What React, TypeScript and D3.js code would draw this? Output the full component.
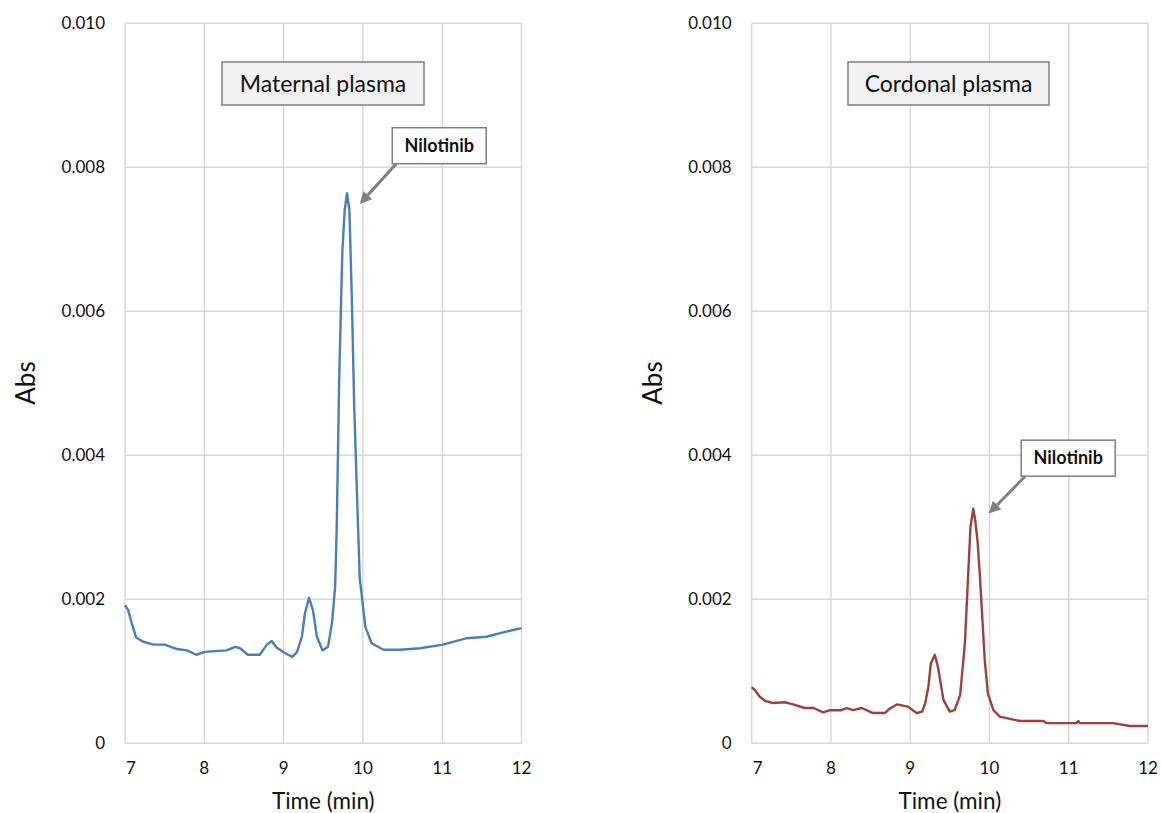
import React from 'react';
import * as d3 from 'd3';

// retention time (min) / absorbance
const maternalTime = [7.0, 7.04, 7.085, 7.14, 7.23, 7.36, 7.5, 7.65, 7.78, 7.9, 8.01, 8.28, 8.39, 8.45, 8.55, 8.7, 8.79, 8.85, 8.91, 9.02, 9.11, 9.17, 9.23, 9.27, 9.32, 9.37, 9.42, 9.49, 9.56, 9.61, 9.65, 9.67, 9.7, 9.74, 9.77, 9.8, 9.83, 9.86, 9.89, 9.93, 9.96, 10.03, 10.11, 10.26, 10.47, 10.72, 11.01, 11.31, 11.56, 11.73, 12.0];
const maternalAbs = [0.00192, 0.00185, 0.00167, 0.00147, 0.00141, 0.00137, 0.00137, 0.00131, 0.00129, 0.00123, 0.00127, 0.00129, 0.00134, 0.00132, 0.00123, 0.00123, 0.00137, 0.00142, 0.00133, 0.00125, 0.0012, 0.00127, 0.00148, 0.00181, 0.00202, 0.00185, 0.00148, 0.00129, 0.00134, 0.00167, 0.00218, 0.003, 0.005, 0.0068, 0.0074, 0.00764, 0.0074, 0.0062, 0.0047, 0.0033, 0.0023, 0.00162, 0.00139, 0.0013, 0.0013, 0.00132, 0.00137, 0.00146, 0.00148, 0.00153, 0.0016];

const cordonalTime = [7.0, 7.04, 7.1, 7.17, 7.27, 7.42, 7.52, 7.67, 7.78, 7.9, 7.99, 8.13, 8.2, 8.28, 8.39, 8.53, 8.68, 8.74, 8.83, 8.97, 9.08, 9.15, 9.19, 9.23, 9.26, 9.31, 9.35, 9.42, 9.5, 9.56, 9.63, 9.69, 9.73, 9.76, 9.795, 9.82, 9.85, 9.88, 9.94, 9.98, 10.05, 10.13, 10.26, 10.38, 10.68, 10.72, 11.1, 11.12, 11.14, 11.56, 11.77, 12.0];
const cordonalAbs = [0.00078, 0.00074, 0.00065, 0.00059, 0.00056, 0.00057, 0.00054, 0.00049, 0.00049, 0.00043, 0.00046, 0.00046, 0.00049, 0.00046, 0.00049, 0.00042, 0.00042, 0.00048, 0.00054, 0.00051, 0.00042, 0.00044, 0.00056, 0.00079, 0.00111, 0.00123, 0.00106, 0.0006, 0.00044, 0.00046, 0.00067, 0.00139, 0.00231, 0.003, 0.00326, 0.0031, 0.0028, 0.00231, 0.00116, 0.00069, 0.00046, 0.00037, 0.00034, 0.00031, 0.00031, 0.00028, 0.00028, 0.00031, 0.00028, 0.00028, 0.00024, 0.00024];

const xTicks = [7, 8, 9, 10, 11, 12];
const yTicks = [0, 0.002, 0.004, 0.006, 0.008, 0.01];

const FONT = 'Lato, "Open Sans", sans-serif';

type PanelProps = {
  left: number;
  right: number;
  time: number[];
  abs: number[];
  color: string;
  title: string;
  titleBox: [number, number, number, number];
  // annotation: box top-left in data units, arrow tip in data units
  noteAt: [number, number];
  arrowTip: [number, number];
};

const top = 23.3;
const bottom = 743.3;

function Panel({ left, right, time, abs, color, title, titleBox, noteAt, arrowTip }: PanelProps) {
  const x = d3.scaleLinear().domain([7, 12]).range([left, right]);
  const y = d3.scaleLinear().domain([0, 0.01]).range([bottom, top]);
  const pts = time.map((t, i) => [t, abs[i]] as [number, number]);
  const line = d3.line<[number, number]>().x(d => x(d[0])).y(d => y(d[1]));

  const bx = x(noteAt[0]);
  const by = y(noteAt[1]);
  const tipX = x(arrowTip[0]);
  const tipY = y(arrowTip[1]);
  const sx = bx + 4;
  const sy = by + 36;
  const ang = Math.atan2(tipY - sy, tipX - sx);
  const headLen = 12;
  const headW = 6;
  const baseX = tipX - headLen * Math.cos(ang);
  const baseY = tipY - headLen * Math.sin(ang);
  const px = -Math.sin(ang) * headW;
  const py = Math.cos(ang) * headW;

  const [tx, ty, tw, th] = titleBox;

  return (
    <g>
      {xTicks.map(t => (
        <line key={'gx' + t} x1={x(t)} x2={x(t)} y1={top} y2={bottom} stroke="#d9d9d9" strokeWidth={1.5} />
      ))}
      {yTicks.map(v => (
        <line key={'gy' + v} x1={left} x2={right} y1={y(v)} y2={y(v)} stroke="#d9d9d9" strokeWidth={1.5} />
      ))}
      {yTicks.map(v => (
        <text key={'ty' + v} x={left - 20} y={y(v)} dy="0.35em" textAnchor="end" fontSize={17} fontFamily={FONT} fill="#111">
          {v === 0 ? '0' : d3.format('.3f')(v)}
        </text>
      ))}
      {xTicks.map((t, i) => (
        <text key={'tx' + t} x={x(t) + (i === 0 ? 6 : 0)} y={768} dy="0.35em" textAnchor="middle" fontSize={17} fontFamily={FONT} fill="#111">
          {t}
        </text>
      ))}
      <text x={(left + right) / 2} y={801} dy="0.35em" textAnchor="middle" fontSize={22.5} fontFamily={FONT} fill="#111">
        Time (min)
      </text>
      <text transform={`translate(${left - 99},383) rotate(-90)`} dy="0.35em" textAnchor="middle" fontSize={26} fontFamily={FONT} fill="#111">
        Abs
      </text>

      <path d={line(pts) || ''} fill="none" stroke={color} strokeWidth={2.4} strokeLinejoin="round" />

      <rect x={tx} y={ty} width={tw} height={th} fill="#f2f2f2" stroke="#7f7f7f" strokeWidth={1.5} />
      <text x={tx + tw / 2} y={ty + th / 2} dy="0.35em" textAnchor="middle" fontSize={23} fontFamily={FONT} fill="#111">
        {title}
      </text>

      <rect x={bx} y={by} width={94} height={36} fill="#fff" stroke="#7f7f7f" strokeWidth={1.5} />
      <text x={bx + 47} y={by + 18} dy="0.35em" textAnchor="middle" fontSize={18} fontWeight="bold" fontFamily={FONT} fill="#111">
        Nilotinib
      </text>
      <line x1={sx} y1={sy} x2={baseX} y2={baseY} stroke="#808080" strokeWidth={3} />
      <path d={`M${tipX},${tipY}L${baseX + px},${baseY + py}L${baseX - px},${baseY - py}Z`} fill="#808080" />
    </g>
  );
}

export default function App() {
  return (
    <svg width={1161} height={813} style={{ position: 'absolute', left: 0, top: 0, background: '#fff' }}>
      <Panel
        left={125}
        right={521.5}
        time={maternalTime}
        abs={maternalAbs}
        color="#4a7ebb"
        title="Maternal plasma"
        titleBox={[222, 62, 202, 43]}
        noteAt={[10.37, 0.00855]}
        arrowTip={[9.96, 0.00749]}
      />
      <Panel
        left={751.7}
        right={1148}
        time={cordonalTime}
        abs={cordonalAbs}
        color="#a0403c"
        title="Cordonal plasma"
        titleBox={[848, 62, 201, 43]}
        noteAt={[10.4, 0.00421]}
        arrowTip={[9.99, 0.00319]}
      />
    </svg>
  );
}
